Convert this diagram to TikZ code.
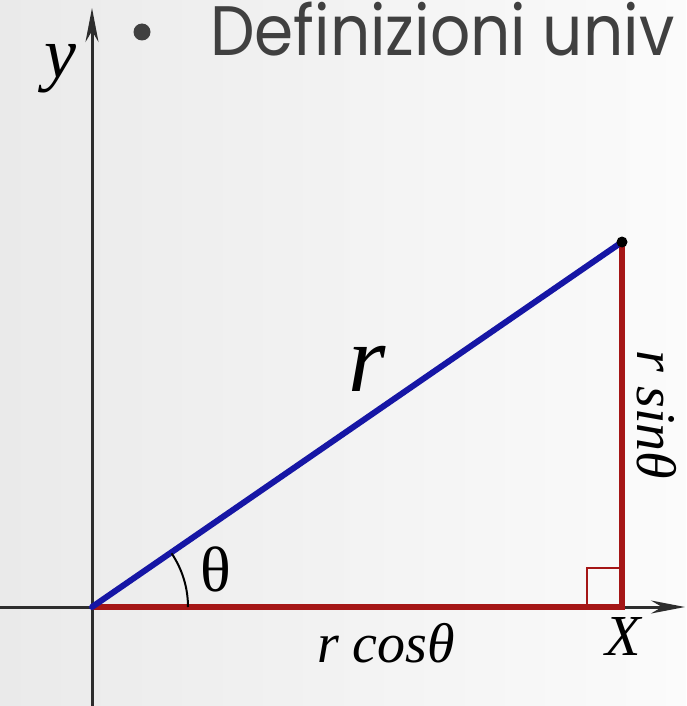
\documentclass[tikz,border=0pt]{standalone}
\usepackage{fontspec}
\setmainfont{Liberation Serif}
\newfontfamily\gothic{Poppins}
\usetikzlibrary{arrows.meta}
\definecolor{myred}{RGB}{165,22,22}
\definecolor{myblue}{RGB}{22,22,165}
\definecolor{axiscol}{RGB}{45,45,45}
\definecolor{txtgray}{RGB}{64,64,64}
\definecolor{bgl}{RGB}{234,234,234}
\definecolor{bgr}{RGB}{251,251,251}
\tikzset{
  axisline/.style={axiscol, line width=3pt},
  redline/.style={myred, line width=6pt},
  blueline/.style={myblue, line width=6pt, line cap=round},
  lab/.style={inner sep=0pt, text=black},
}
\begin{document}
\begin{tikzpicture}[x=1pt,y=-1pt]
\useasboundingbox (0,0) rectangle (686,706);
\clip (0,0) rectangle (686,706);
\shade[left color=bgl, right color=bgr] (0,0) rectangle (686,706);
% coordinates
\coordinate (O) at (92,607);
\coordinate (P) at (622,242);
\coordinate (F) at (622,607);
\coordinate (Xs) at (0,607);
\coordinate (Xe) at (685,607);
\coordinate (Ys) at (92,706);
\coordinate (Ye) at (92,8);
\coordinate (S1) at (587,607);
\coordinate (S2) at (622,568);
\coordinate (A0) at (188,607);
% title
\fill[txtgray] (142,32) circle (8.5);
\node[anchor=base west, font=\gothic\fontsize{70}{80}\selectfont, text=txtgray, inner sep=0pt] (title) at (210,56) {\scalebox{0.9}[1]{Definizioni univ}};
% axes
\draw[axisline, -{Stealth[length=34pt,width=13pt]}] (Xs) -- (Xe);
\draw[axisline, -{Stealth[length=34pt,width=13pt]}] (Ys) -- (Ye);
% triangle
\draw[redline] (O) -- (F) -- (P);
\draw[blueline] (O) -- (P);
\fill (P) circle (5.5);
\draw[myred, line width=2.5pt] (S1) |- (S2);
\draw[black, line width=2pt] (A0) arc[start angle=0, end angle=-34, radius=96];
% labels
\node[lab, font=\fontsize{96}{100}\selectfont\itshape] (rl) at (367,369) {r};
\node[lab, font=\fontsize{64}{70}\selectfont] (th) at (216,569) {θ};
\node[lab, font=\fontsize{56}{60}\selectfont\itshape] (rc) at (386,643) {r cosθ};
\node[lab, font=\fontsize{56}{60}\selectfont\itshape, rotate=-90] (rs) at (657,415) {r sinθ};
\node[lab, font=\fontsize{58}{60}\selectfont\itshape] (xl) at (623,637) {X};
\node[lab, font=\fontsize{72}{76}\selectfont\itshape] (yl) at (60,69) {y};
\end{tikzpicture}
\end{document}
